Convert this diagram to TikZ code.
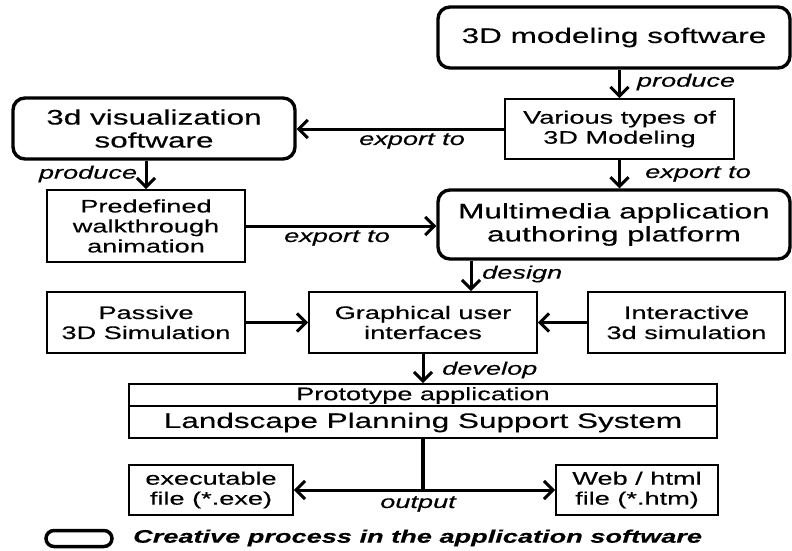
\documentclass[tikz,border=0pt]{standalone}
\usepackage{fontspec}
\setmainfont{Liberation Sans}[FakeStretch=1.5, FakeBold=0.3]
\usetikzlibrary{arrows.meta,calc}

\newcommand{\normtext}{\fontsize{18.1}{20}\selectfont}
\newcommand{\bigtext}{\fontsize{21}{23}\selectfont}
\newcommand{\lbltext}{\fontsize{18.1}{20}\selectfont\itshape}
\newcommand{\keytext}{\fontsize{18.1}{20}\selectfont\bfseries\itshape}

\tikzset{
  box/.style={draw, line width=1.8pt, inner sep=0pt, align=center, font=\normtext},
  softbox/.style={draw, line width=3.4pt, rounded corners=12pt, inner sep=0pt,
                  align=center, font=\bigtext},
  link/.style={line width=3pt},
  arr/.style={link, -{Straight Barb[length=9pt,width=18pt]}},
  lbl/.style={font=\lbltext, inner sep=0pt},
}

\begin{document}
\begin{tikzpicture}[x=1pt, y=-1pt]
  \useasboundingbox (0,0) rectangle (792,551);

  % software (creative process) boxes
  \node[softbox, minimum width=352pt, minimum height=61pt] (mod3d) at (614,37.5)
       {3D modeling software};
  \node[softbox, minimum width=282pt, minimum height=61pt] (vis) at (154,128.5)
       {3d visualization\\software};
  \node[softbox, minimum width=352pt, minimum height=69pt] (mm) at (614,224.5)
       {Multimedia application\\authoring platform};

  % product boxes
  \node[box, minimum width=229pt, minimum height=60pt] (various) at (619.5,129)
       {Various types of\\3D Modeling};
  \node[box, minimum width=198pt, minimum height=72pt] (pre) at (146,226)
       {Predefined\\walkthrough\\animation};
  \node[box, minimum width=198pt, minimum height=61pt] (passive) at (146,322.5)
       {Passive\\3D Simulation};
  \node[box, minimum width=228pt, minimum height=61pt] (gui) at (423,322.5)
       {Graphical user\\interfaces};
  \node[box, minimum width=197pt, minimum height=61pt] (inter) at (686.5,322.5)
       {Interactive\\3d simulation};

  % prototype application box with its title strip
  \node[box, minimum width=588pt, minimum height=54pt] (proto) at (423,411) {};
  \draw[line width=1.2pt] (proto.west |- 0,406) -- (proto.east |- 0,406);
  \node[font=\normtext, inner sep=0pt] (protoTop) at (423,395.5) {Prototype application};
  \node[font=\bigtext, inner sep=0pt] (protoMain) at (423,422.5)
       {Landscape Planning Support System};

  % output files
  \node[box, minimum width=164pt, minimum height=50pt] (exe) at (211,490)
       {executable\\file (*.exe)};
  \node[box, minimum width=162pt, minimum height=50pt] (web) at (637,490)
       {Web / html\\file (*.htm)};

  % connectors
  \draw[arr] (mod3d.south -| various.north) -- (various.north);
  \draw[arr] (various.west) -- (various.west -| vis.east);
  \draw[arr] (vis.south -| pre.north) -- (pre.north);
  \draw[arr] (various.south) -- (various.south |- mm.north);
  \draw[arr] (pre.east) -- (pre.east -| mm.west);
  \draw[arr] ([xshift=48pt]gui.north |- mm.south) -- ([xshift=48pt]gui.north);
  \draw[arr] (passive.east) -- (passive.east -| gui.west);
  \draw[arr] (inter.west) -- (inter.west -| gui.east);
  \draw[arr] (gui.south) -- (proto.north);
  \coordinate (split) at (proto.south |- exe.east);
  \draw[link, line width=3.6pt] (proto.south) -- (split);
  \draw[arr] (split) -- (exe.east);
  \draw[arr] (split) -- (web.west);

  % connector labels
  \node[lbl] (lProduceA) at (686,82) {produce};
  \node[lbl] (lExportA) at (412,141) {export to};
  \node[lbl] (lProduceB) at (88,174) {produce};
  \node[lbl] (lExportB) at (698,174) {export to};
  \node[lbl] (lExportC) at (337,238) {export to};
  \node[lbl, anchor=west] (lDesign) at (482,274) {design};
  \node[lbl, anchor=west] (lDevelop) at (442,370) {develop};
  \node[lbl] (lOutput) at (418,504) {output};

  % key
  \node[draw, line width=3.5pt, rounded corners=8pt, minimum width=66pt,
        minimum height=16pt, inner sep=0pt] (key) at (79,538.5) {};
  \node[font=\keytext, inner sep=0pt, anchor=west] (keyLabel) at (133,538)
       {Creative process in the application software};
\end{tikzpicture}
\end{document}
